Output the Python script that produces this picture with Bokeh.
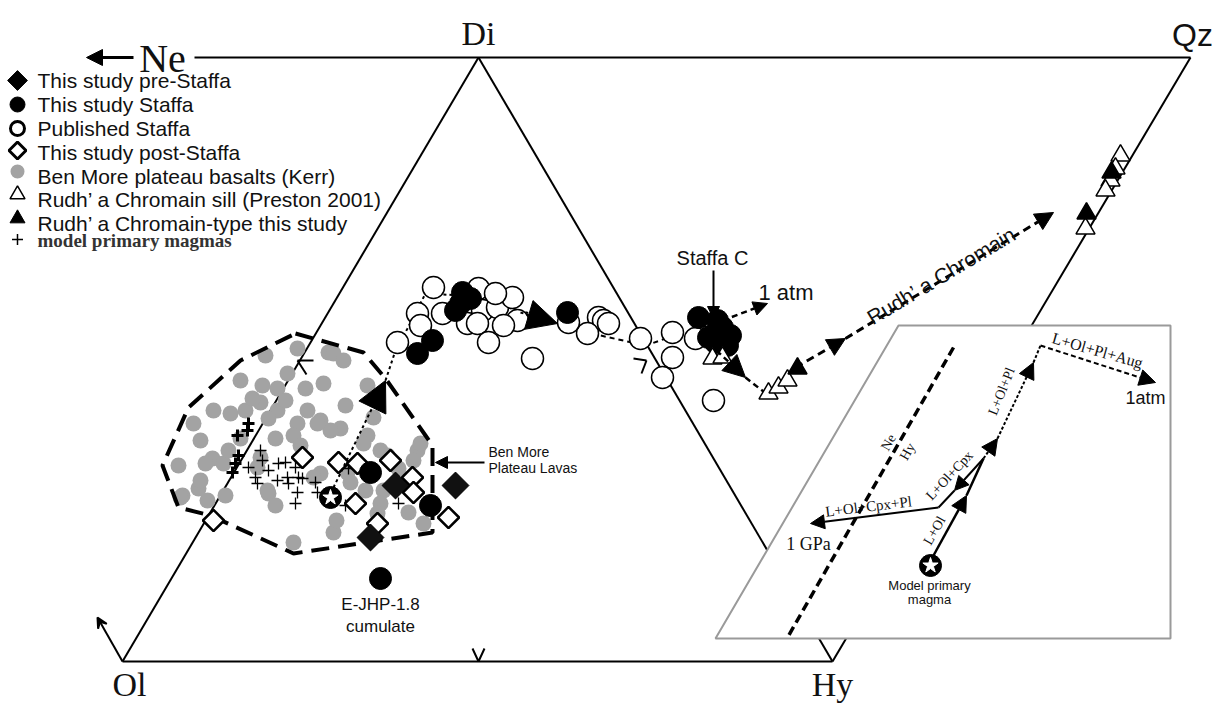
import math
from bokeh.plotting import figure
from bokeh.models import Range1d, Arrow, NormalHead, VeeHead, Label
from bokeh.embed import file_html
from bokeh.resources import INLINE

# ---------------- data (diagram coordinates) ----------------
# projection frame: Ne-Qz top edge, Ol-Di, Di-Hy, Ol-Hy, Qz-Hy
frame_x = [[194, 1190], [122, 478], [478, 832], [122, 832], [1190, 832]]
frame_y = [[57, 57], [661, 57], [57, 661], [661, 661], [57, 661]]

# Ben More plateau basalts (Kerr)
benmore_x = [297, 328, 265, 287, 240, 262, 277, 305, 213, 230, 245, 260, 277, 307, 320, 193, 200, 297, 275, 293,
             240, 212, 205, 223, 178, 260, 257, 320, 313, 198, 182, 207, 225, 268, 275, 293, 333, 343, 323, 367,
             373, 367, 363, 340, 330, 317, 380, 387, 417, 413, 347, 383, 380, 377, 333, 267, 180, 200, 423, 420, 365,
             252, 268, 285, 345, 300, 228, 350, 398, 408, 336]
benmore_y = [348, 352, 355, 373, 380, 385, 388, 388, 410, 413, 410, 402, 410, 410, 420, 423, 440, 423, 438, 435,
             438, 458, 463, 463, 465, 457, 467, 473, 477, 488, 495, 500, 495, 493, 505, 542, 353, 360, 383, 385,
             417, 435, 443, 428, 430, 423, 450, 455, 450, 460, 472, 490, 503, 513, 532, 490, 497, 480, 523, 443, 490,
             398, 418, 400, 405, 445, 450, 482, 468, 512, 520]

# model primary magmas
plus_x = [260, 262, 248, 255, 257, 268, 278, 285, 277, 287, 295, 298, 288, 302, 315, 297, 317, 295, 300, 398, 348, 345]
plus_y = [450, 460, 467, 477, 483, 470, 463, 462, 480, 477, 467, 477, 483, 478, 482, 492, 492, 503, 455, 503, 468, 505]
plus_bold_x = [248, 247, 237, 238, 235, 232]
plus_bold_y = [423, 430, 435, 455, 463, 472]

# This study post-Staffa
post_x = [302, 338, 357, 390, 412, 413, 355, 377, 448, 213]
post_y = [457, 462, 463, 460, 477, 492, 503, 523, 517, 520]

# This study pre-Staffa
pre_x = [395, 455, 370]
pre_y = [485, 485, 537]

# This study Staffa
staffa_x = [370, 430, 380, 417, 432, 462, 470, 455, 460, 567, 698, 717, 720, 708, 730, 727, 715, 722]
staffa_y = [472, 505, 578, 353, 340, 292, 298, 310, 303, 312, 317, 320, 333, 337, 335, 345, 342, 327]

# Published Staffa
pub_x = [433, 417, 420, 397, 442, 478, 482, 467, 477, 497, 512, 517, 503, 488, 532, 495, 598, 603, 608, 587,
         568, 640, 672, 672, 662, 713, 695]
pub_y = [287, 313, 325, 342, 313, 288, 310, 323, 323, 307, 297, 320, 325, 342, 358, 293, 317, 320, 323, 333,
         322, 338, 332, 357, 377, 400, 338]

# Rudh' a Chromain sill (Preston 2001)
rsill_x = [712, 722, 768, 778, 787, 1120, 1115, 1110, 1105, 1085]
rsill_y = [358, 357, 393, 387, 380, 155, 168, 180, 190, 228]

# Rudh' a Chromain-type this study
rtype_x = [797, 1111, 1086]
rtype_y = [368, 172, 213]

# Ben More field outline
field_x = [295, 363, 385, 425, 432, 432, 293, 210, 178, 162, 188, 240, 295]
field_y = [333, 352, 378, 435, 445, 532, 553, 515, 507, 465, 407, 360, 333]

# main liquid line of descent
lld1_x = [385, 395, 407, 425, 460, 500, 530]
lld1_y = [380, 350, 328, 293, 295, 305, 313]
lld2_x = [557, 600, 645, 680, 722]
lld2_y = [323, 335, 345, 333, 322]

# inset
inset_x = [715, 898, 1170, 1170]
inset_y = [638, 325, 325, 638]
nehy_x = [953, 787]
nehy_y = [347, 637]

legend_labels = ["This study pre-Staffa", "This study Staffa", "Published Staffa", "This study post-Staffa",
                 "Ben More plateau basalts (Kerr)", "Rudh\u2019 a Chromain sill (Preston 2001)",
                 "Rudh\u2019 a Chromain-type this study"]
legend_y = [80, 104, 128, 152, 176, 199, 223]

# ---------------- figure ----------------
p = figure(width=1212, height=705, x_range=Range1d(0, 1212), y_range=Range1d(705, 0),
           output_backend="svg", toolbar_location=None, min_border=0,
           x_axis_type=None, y_axis_type=None)
p.grid.visible = False
p.outline_line_color = None
p.background_fill_color = "white"

D45 = math.pi / 4


def txt(x, y, s, size, font="Liberation Sans", align="left", baseline="middle", angle=0.0,
        style="normal", color="#111111"):
    p.add_layout(Label(x=x, y=y, text=s, text_font=font, text_font_size=f"{size}px",
                       text_align=align, text_baseline=baseline, angle=math.radians(angle),
                       text_font_style=style, text_color=color))


def arrow(x0, y0, x1, y1, size=12, width=2, dash="solid", head="normal"):
    if head == "normal":
        h = NormalHead(size=size, fill_color="black", line_color="black", line_width=1)
    else:
        h = VeeHead(size=size, fill_color="black", line_color="black", line_width=2)
    p.add_layout(Arrow(end=h, x_start=x0, y_start=y0, x_end=x1, y_end=y1,
                       line_width=width, line_dash=dash, line_color="black"))


# frame
p.multi_line(frame_x, frame_y, line_color="black", line_width=2)
arrow(133, 57, 86, 57, size=16, width=3)
arrow(122, 661, 97, 617, size=10, width=2, head="vee")
p.line([472, 478, 484], [648, 661, 648], line_color="black", line_width=2)
p.multi_line([[297, 313], [297, 306], [633, 646], [646, 641]],
             [[360, 360], [360, 374], [358, 360], [360, 373]], line_color="black", line_width=2)

# corner labels
txt(162, 58, "Ne", 40, font="Liberation Serif", align="center", baseline="middle")
txt(478, 33, "Di", 34, font="Liberation Serif", align="center", baseline="middle")
txt(1192, 34, "Qz", 32, font="Liberation Sans", align="center", baseline="middle")
txt(129, 684, "Ol", 34, font="Liberation Serif", align="center", baseline="middle")
txt(832, 684, "Hy", 34, font="Liberation Serif", align="center", baseline="middle")

# Ben More data
p.scatter(benmore_x, benmore_y, marker="circle", size=16, fill_color="#a3a3a3", line_color=None)
p.line(field_x, field_y, line_color="black", line_width=4, line_dash="18 9")
p.scatter(plus_x, plus_y, marker="cross", size=12, line_color="black", line_width=1.3)
p.scatter(plus_bold_x, plus_bold_y, marker="cross", size=12, line_color="black", line_width=3)

# trend lines
arrow(333, 487, 385, 380, size=30, width=2, dash="3 3")
p.line(lld1_x, lld1_y, line_color="black", line_width=2, line_dash="3 3")
arrow(520, 312, 557, 323, size=30, width=2, dash="3 3")
p.line(lld2_x, lld2_y, line_color="black", line_width=2, line_dash="5 4")
arrow(722, 320, 767, 303, size=14, width=2.5, dash="6 4")
arrow(716, 350, 745, 377, size=22, width=2.5, dash="6 4")
p.line([745, 768], [377, 395], line_color="black", line_width=2.5, line_dash="6 4")
arrow(795, 367, 845, 338, size=18, width=3, dash="8 5")
arrow(845, 338, 1053, 212, size=18, width=3, dash="8 5")

# points
p.scatter(post_x, post_y, marker="square", angle=D45, size=15, fill_color="white", line_color="black", line_width=2.5)
p.scatter(pre_x, pre_y, marker="square", angle=D45, size=19, fill_color="#111111", line_color="black", line_width=1)
p.scatter(pub_x, pub_y, marker="circle", size=22, fill_color="white", line_color="black", line_width=1.5)
p.scatter(staffa_x, staffa_y, marker="circle", size=22, fill_color="black", line_color="black")
p.scatter(rsill_x, rsill_y, marker="triangle", size=19, fill_color="white", line_color="black", line_width=1.5)
p.scatter(rtype_x, rtype_y, marker="triangle", size=19, fill_color="black", line_color="black", line_width=1.5)
p.scatter([330], [497], marker="circle", size=22, fill_color="black", line_color="black")
p.scatter([330], [497], marker="star", size=16, fill_color="white", line_color="white")

# annotations in main diagram
txt(712, 257, "Staffa C", 20, align="center")
arrow(713, 270, 713, 318, size=12, width=2)
txt(758, 292, "1 atm", 22)
txt(941, 275, "Rudh\u2019 a Chromain", 21, align="center", baseline="alphabetic", angle=31)
txt(380, 604, "E-JHP-1.8", 17, align="center")
txt(380, 626, "cumulate", 17, align="center")
txt(488, 451, "Ben More", 14)
txt(488, 467, "Plateau Lavas", 14)
arrow(484, 462, 435, 462, size=12, width=2)

# inset
p.patch(inset_x, inset_y, fill_color="white", line_color="#9a9a9a", line_width=2)
p.line(nehy_x, nehy_y, line_color="black", line_width=3.5, line_dash="9 5")
txt(888, 442, "Ne", 14, font="Liberation Serif", align="center", angle=60)
txt(907, 451, "Hy", 14, font="Liberation Serif", align="center", angle=60)
arrow(933, 555, 966, 495, size=16, width=2.5)
p.line([966, 983], [495, 458], line_color="black", line_width=2.5)
arrow(983, 458, 954, 490, size=14, width=2)
p.line([954, 938], [490, 507], line_color="black", line_width=2)
arrow(938, 507, 810, 523, size=14, width=2)
arrow(983, 458, 997, 438, size=16, width=2, dash="3 2")
arrow(997, 438, 1033, 362, size=16, width=2, dash="3 2")
p.line([1033, 1040], [362, 345], line_color="black", line_width=2, line_dash="3 2")
arrow(1040, 345, 1155, 382, size=16, width=2, dash="5 3")
p.scatter([930], [565], marker="circle", size=22, fill_color="black", line_color="black")
p.scatter([930], [565], marker="star", size=16, fill_color="white", line_color="white")
txt(929, 585, "Model primary", 13, align="center")
txt(929, 599, "magma", 13, align="center")
txt(934, 530, "L+Ol", 14, font="Liberation Serif", align="center", angle=60)
txt(949, 475, "L+Ol+Cpx", 14, font="Liberation Serif", align="center", angle=47)
txt(868, 506, "L+Ol+Cpx+Pl", 15, font="Liberation Serif", align="center", angle=7)
txt(1001, 391, "L+Ol+Pl", 14, font="Liberation Serif", align="center", angle=68)
txt(1097, 350, "L+Ol+Pl+Aug", 16, font="Liberation Serif", align="center", angle=-16)
txt(808, 543, "1 GPa", 18, font="Liberation Serif", align="center")
txt(1145, 397, "1atm", 18, align="center")

# legend
lx = 17
p.scatter([lx], [legend_y[0]], marker="square", angle=D45, size=14, fill_color="black", line_color="black")
p.scatter([lx], [legend_y[1]], marker="circle", size=15, fill_color="black", line_color="black")
p.scatter([lx], [legend_y[2]], marker="circle", size=14, fill_color="white", line_color="black", line_width=3)
p.scatter([lx], [legend_y[3] - 2], marker="square", angle=D45, size=12, fill_color="white", line_color="black", line_width=3)
p.scatter([lx], [legend_y[4] - 5], marker="circle", size=14, fill_color="#a3a3a3", line_color=None)
p.scatter([lx], [legend_y[5] - 5], marker="triangle", size=15, fill_color="white", line_color="black", line_width=1.5)
p.scatter([lx], [legend_y[6] - 5], marker="triangle", size=15, fill_color="black", line_color="black")
p.scatter([lx], [239], marker="cross", size=11, line_color="black", line_width=1.5)
for lab, ly in zip(legend_labels, legend_y):
    txt(37, ly, lab, 21)
txt(37, 240, "model primary magmas", 19, font="Liberation Serif", style="bold", color="#333333")

open("out.html", "w").write(file_html(p, INLINE))
